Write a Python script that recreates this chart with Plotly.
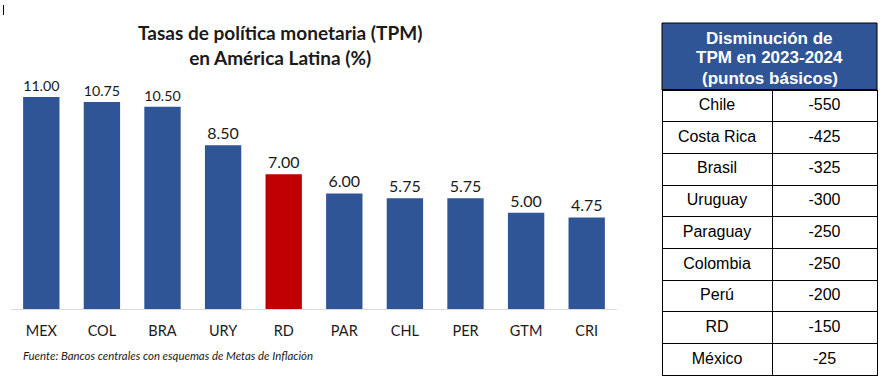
import plotly.graph_objects as go

W, H = 895, 384

countries = ["MEX", "COL", "BRA", "URY", "RD", "PAR", "CHL", "PER", "GTM", "CRI"]
tpm = [11.00, 10.75, 10.50, 8.50, 7.00, 6.00, 5.75, 5.75, 5.00, 4.75]
highlight = "RD"

table_countries = ["Chile", "Costa Rica", "Brasil", "Uruguay", "Paraguay",
                   "Colombia", "Perú", "RD", "México"]
table_bp = [-550, -425, -325, -300, -250, -250, -200, -150, -25]
table_header_lines = ["Disminución de", "TPM en 2023-2024", "(puntos básicos)"]

title_text = "Tasas de política monetaria (TPM)<br>en América Latina (%)"
source_text = "Fuente: Bancos centrales con esquemas de Metas de Inflación"

BLUE = "#2F5597"
RED = "#C00000"
colors = [RED if c == highlight else BLUE for c in countries]
FONT_C = "Lato, Liberation Sans, sans-serif"
FONT_A = "Liberation Sans, Arial, sans-serif"

def px_x(x):
    return x / W

def px_y(y):
    return 1 - y / H

# table geometry (pixels)
T_L, T_R, T_MID = 662, 877, 772
T_TOP, T_HEAD_B = 23, 90
ROW_H = 31.7
HDR_H = 1

fig = go.Figure()

fig.add_trace(go.Bar(
    x=countries, y=tpm,
    marker=dict(color=colors, line=dict(width=0)),
    text=[f"{v:.2f}" for v in tpm],
    textposition="outside",
    textfont=dict(family=FONT_C, size=16, color="#1a1a1a"),
    cliponaxis=False,
    hoverinfo="skip",
))

n_rows = len(table_countries)
fig.add_trace(go.Table(
    domain=dict(x=[px_x(T_L), px_x(T_R)],
                y=[px_y(T_HEAD_B + n_rows * ROW_H + 2), px_y(T_HEAD_B - HDR_H)]),
    columnwidth=[T_MID - T_L, T_R - T_MID],
    header=dict(values=["", ""], height=HDR_H, fill_color="black",
                line=dict(color="black", width=0),
                font=dict(size=1)),
    cells=dict(
        values=[table_countries, [str(v) for v in table_bp]],
        fill_color="white",
        line=dict(color="black", width=1),
        font=dict(family=FONT_A, size=16, color="black"),
        align="center",
        height=ROW_H,
    ),
))

annotations = [
    dict(text="<b>" + title_text + "</b>", xref="paper", yref="paper",
         x=px_x(280), y=px_y(45), xanchor="center", yanchor="middle",
         showarrow=False, align="center",
         font=dict(family=FONT_C, size=19, color="#1a1a1a")),
    dict(text="<i>" + source_text + "</i>", xref="paper", yref="paper",
         x=px_x(21), y=px_y(355), xanchor="left", yanchor="middle",
         showarrow=False,
         font=dict(family=FONT_C, size=11.4, color="#1a1a1a")),
]
for i, line in enumerate(table_header_lines):
    annotations.append(dict(
        text="<b>" + line + "</b>", xref="paper", yref="paper",
        x=px_x((T_L + T_R) / 2), y=px_y(38 + 20 * i),
        xanchor="center", yanchor="middle", showarrow=False,
        font=dict(family=FONT_A, size=17, color="white")))

fig.update_layout(
    width=W, height=H,
    margin=dict(l=0, r=0, t=0, b=0),
    paper_bgcolor="white", plot_bgcolor="white",
    showlegend=False,
    bargap=0.4,
    xaxis=dict(
        domain=[px_x(11), px_x(617)],
        showline=True, linecolor="#D9D9D9", linewidth=1,
        ticks="outside", ticklen=9, tickcolor="rgba(0,0,0,0)",
        tickfont=dict(family=FONT_C, size=14.5, color="#1a1a1a"),
        showgrid=False, zeroline=False, fixedrange=True,
    ),
    yaxis=dict(
        domain=[px_y(309), px_y(77.8)],
        range=[0, 12],
        visible=False, showgrid=False, zeroline=False, fixedrange=True,
    ),
    annotations=annotations,
    shapes=[
        dict(type="line", xref="paper", yref="paper",
             x0=px_x(3.5), x1=px_x(3.5), y0=px_y(5), y1=px_y(15),
             line=dict(color="black", width=1)),
        dict(type="rect", xref="paper", yref="paper", layer="below",
             x0=px_x(T_L), x1=px_x(T_R), y0=px_y(T_HEAD_B), y1=px_y(T_TOP),
             fillcolor=BLUE, line=dict(color="black", width=1)),
    ],
)

fig.write_html("out.html", config={"displayModeBar": False},
               post_script="document.body.style.margin='0';document.body.style.overflow='hidden';")
